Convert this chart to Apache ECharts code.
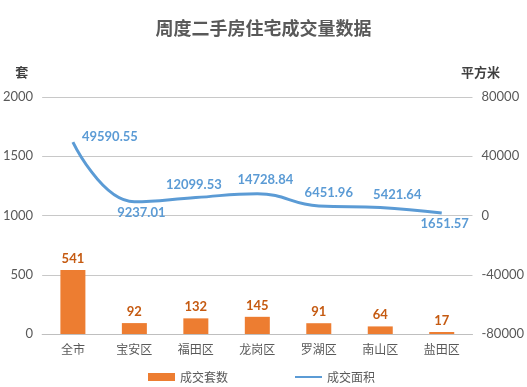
<!DOCTYPE html>
<html><head><meta charset="utf-8">
<script src="https://cdn.jsdelivr.net/npm/echarts@6/dist/echarts.min.js"></script>
<style>html,body{margin:0;padding:0;background:#fff}#c{width:527px;height:387px}</style>
</head><body><div id="c"></div>
<script>
var categories = ['全市','宝安区','福田区','龙岗区','罗湖区','南山区','盐田区'];
var dealCount = [541, 92, 132, 145, 91, 64, 17];
var dealArea = [49590.55, 9237.01, 12099.53, 14728.84, 6451.96, 5421.64, 1651.57];
var leftTicks = [0, 500, 1000, 1500, 2000];
var rightTicks = [-80000, -40000, 0, 40000, 80000];

var areaLabelCfg = [
  {position:'right', offset:[4,-5]},
  {position:'bottom', offset:[7,-1]},
  {position:'top', offset:[-2,-1]},
  {position:'top', offset:[8,-2]},
  {position:'top', offset:[10,-2]},
  {position:'top', offset:[17,-1]},
  {position:'bottom', offset:[3,-1]}
];
var areaData = dealArea.map(function(v,i){ return {value:v, label:areaLabelCfg[i]}; });

var chart = echarts.init(document.getElementById('c'));
var fontNum = 'Lato, "Noto Sans CJK SC", sans-serif';
chart.setOption({
  animation:false,
  title:{text:'周度二手房住宅成交量数据', left:'center', top:14,
    textStyle:{fontFamily:'"Noto Sans CJK SC"', fontSize:18, fontWeight:'bold', color:'#595959'}},
  legend:{left:143, top:366, itemGap:66, itemWidth:27, itemHeight:8,
    textStyle:{color:'#595959', fontSize:12, fontFamily:'"Noto Sans CJK SC"'},
    data:[{name:'成交套数', icon:'rect'},
          {name:'成交面积', itemStyle:{color:'rgba(0,0,0,0)', borderWidth:0, opacity:0}}]},
  grid:{left:41, right:54, top:97, bottom:53},
  xAxis:{type:'category', data:categories,
    axisLine:{lineStyle:{color:'#bfbfbf'}}, axisTick:{show:false},
    axisLabel:{color:'#595959', fontSize:12, margin:9, fontFamily:'"Noto Sans CJK SC"'}},
  yAxis:[
    {type:'value', min:leftTicks[0], max:leftTicks[leftTicks.length-1], interval:500,
     name:'套', nameGap:18,
     nameTextStyle:{color:'#404040', fontWeight:'bold', fontSize:13, align:'right', padding:[0,14,0,0], fontFamily:'"Noto Sans CJK SC"'},
     axisLine:{show:false}, axisTick:{show:false},
     axisLabel:{color:'#595959', fontSize:13, margin:9, fontFamily:fontNum, formatter:function(v){return String(v);}},
     splitLine:{lineStyle:{color:'#c8c8c8'}}},
    {type:'value', min:rightTicks[0], max:rightTicks[rightTicks.length-1], interval:40000,
     name:'平方米', nameGap:18,
     nameTextStyle:{color:'#404040', fontWeight:'bold', fontSize:13, align:'center', padding:[0,0,0,16], fontFamily:'"Noto Sans CJK SC"'},
     axisLine:{show:false}, axisTick:{show:false},
     axisLabel:{color:'#595959', fontSize:13, margin:9, fontFamily:fontNum, formatter:function(v){return String(v);}},
     splitLine:{show:false}}
  ],
  series:[
    {name:'成交套数', type:'bar', data:dealCount, barWidth:25, yAxisIndex:0,
     itemStyle:{color:'#ED7D31'},
     label:{show:true, position:'top', distance:5, color:'#C55A11', fontWeight:'bold', fontSize:13, fontFamily:fontNum}},
    {name:'成交面积', type:'line', data:areaData, yAxisIndex:1, smooth:0.45,
     symbol:'circle', symbolSize:0.1, showSymbol:true,
     lineStyle:{color:'#5B9BD5', width:3}, itemStyle:{color:'#5B9BD5'},
     label:{show:true, color:'#5B9BD5', fontWeight:'bold', fontSize:13, fontFamily:fontNum,
       formatter:function(p){ return p.value.toFixed(2); }}}
  ]
});
</script></body></html>
